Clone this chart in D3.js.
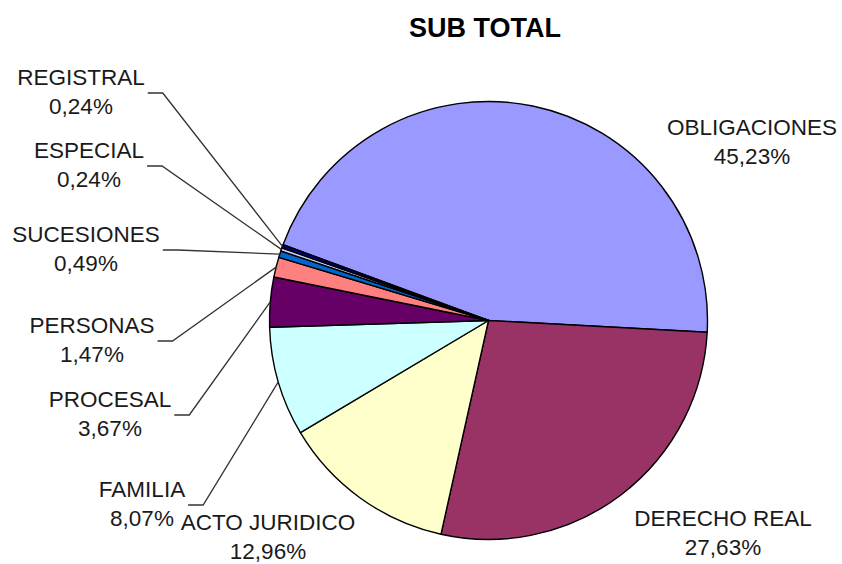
<!DOCTYPE html>
<html>
<head>
<meta charset="utf-8">
<script src="https://cdn.jsdelivr.net/npm/d3@7"></script>
<style>
  body { margin: 0; background: #fff; }
  svg { display: block; }
  text { font-family: "Liberation Sans", Arial, sans-serif; fill: #1a1a1a; }
</style>
</head>
<body>
<div id="chart"></div>
<script>
// data
var categories = ["OBLIGACIONES", "DERECHO REAL", "ACTO JURIDICO", "FAMILIA", "PROCESAL",
                  "PERSONAS", "SUCESIONES", "ESPECIAL", "REGISTRAL"];
var values = [45.23, 27.63, 12.96, 8.07, 3.67, 1.47, 0.49, 0.24, 0.24];
var colors = ["#9999FF", "#993366", "#FFFFCC", "#CCFFFF", "#660066",
              "#FF8080", "#0066CC", "#CCCCFF", "#000080"];

// label placement (x centre, first baseline, leader line?)
var labelX = [752, 723, 268, 142, 110, 92, 86, 89, 81];
var labelY = [135, 526, 530, 497, 407, 333, 242, 158, 85];
var hasLeader = [false, false, false, true, true, true, true, true, true];

var width = 842, height = 564;
var cx = 488.5, cy = 320.5, radius = 219;
var lineGap = 28.5;

var locale = d3.formatLocale({decimal: ",", thousands: ".", grouping: [3], currency: ["", ""]});
var formatPct = locale.format(".2f");

var svg = d3.select("#chart").append("svg")
  .attr("width", width)
  .attr("height", height);

svg.append("text")
  .attr("x", 485)
  .attr("y", 37)
  .attr("text-anchor", "middle")
  .style("font-size", "27px")
  .style("font-weight", "bold")
  .style("fill", "#000")
  .text("SUB TOTAL");

// start angle: obligaciones starts at about -69.8 deg
var start = -69.76 / 180 * Math.PI;

var pie = d3.pie()
  .sort(null)
  .value(d => d)
  .startAngle(start)
  .endAngle(start + 2 * Math.PI);

var arc = d3.arc()
  .innerRadius(0)
  .outerRadius(radius);

var arcs = pie(values);

var g = svg.append("g")
  .attr("transform", "translate(" + cx + "," + cy + ")");

g.selectAll("path.slice")
  .data(arcs)
  .enter().append("path")
  .attr("class", "slice")
  .attr("d", arc)
  .attr("fill", (d, i) => colors[i])
  .attr("stroke", "#000")
  .attr("stroke-width", 1.4)
  .attr("stroke-linejoin", "round");

// labels
var labels = svg.append("g").selectAll("g.label")
  .data(arcs)
  .enter().append("g")
  .attr("class", "label");

labels.append("text")
  .attr("x", (d, i) => labelX[i])
  .attr("y", (d, i) => labelY[i])
  .attr("text-anchor", "middle")
  .style("font-size", "22.5px")
  .text((d, i) => categories[i]);

labels.append("text")
  .attr("x", (d, i) => labelX[i])
  .attr("y", (d, i) => labelY[i] + lineGap)
  .attr("text-anchor", "middle")
  .style("font-size", "22.5px")
  .text((d, i) => formatPct(values[i]) + "%");

// leader lines
labels.each(function(d, i) {
  if (!hasLeader[i]) return;
  var box = this.getBBox();
  var right = box.x + box.width;
  var y = labelY[i] + 8;
  var a = (d.startAngle + d.endAngle) / 2;
  var px = cx + radius * Math.sin(a);
  var py = cy - radius * Math.cos(a);
  d3.select(this).append("path")
    .attr("d", "M" + (right + 3) + "," + y + "H" + (right + 18) + "L" + px + "," + py)
    .attr("fill", "none")
    .attr("stroke", "#333")
    .attr("stroke-width", 1.3);
});
</script>
</body>
</html>
